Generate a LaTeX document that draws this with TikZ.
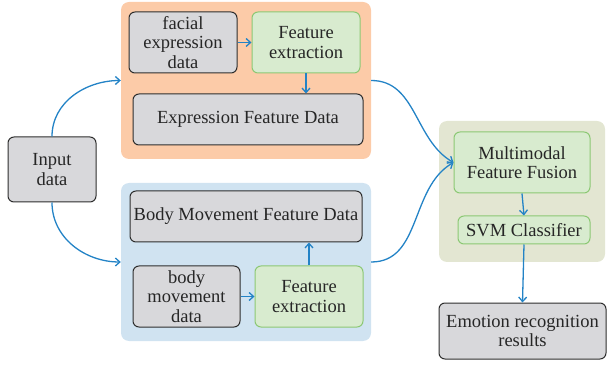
\documentclass[tikz,border=0pt]{standalone}
\usepackage{fontspec}
\setmainfont{Liberation Serif}
\usetikzlibrary{arrows.meta}
\definecolor{orangebg}{HTML}{FCCBA8}
\definecolor{bluebg}{HTML}{D0E3F1}
\definecolor{greenbg}{HTML}{E3E6D2}
\definecolor{grayfill}{HTML}{D8D8DB}
\definecolor{grayline}{HTML}{2E2E2E}
\definecolor{greenfill}{HTML}{D8EBCF}
\definecolor{greenline}{HTML}{8CC874}
\definecolor{arrowblue}{HTML}{2383C6}
\tikzset{
  region/.style={rounded corners=8pt, inner sep=0pt, draw=none},
  graybox/.style={draw=grayline, fill=grayfill, line width=1pt, rounded corners=6pt, align=center, inner sep=1pt, font=\fontsize{18.5}{19.5}\selectfont, text=black!85},
  greenbox/.style={draw=greenline, fill=greenfill, line width=1pt, rounded corners=6pt, align=center, inner sep=1pt, font=\fontsize{18.5}{19.5}\selectfont, text=black!85},
  conn/.style={draw=arrowblue, line width=1.3pt, -{Straight Barb[length=4.5pt,width=8pt,line width=1.3pt]}},
}
\begin{document}
\begin{tikzpicture}[x=1pt,y=-1pt]
\useasboundingbox (0,0) rectangle (608,366);
% regions
\node[region, fill=orangebg, minimum width=250pt, minimum height=157pt] (orange) at (246,80.5) {};
\node[region, fill=bluebg, minimum width=250pt, minimum height=158pt] (blue) at (246,262) {};
\node[region, fill=greenbg, minimum width=166pt, minimum height=141pt] (greenr) at (522,191.5) {};
% nodes
\node[graybox, minimum width=108pt, minimum height=61pt] (fed) at (183,42.5) {facial\\expression\\data};
\node[greenbox, minimum width=108pt, minimum height=61pt] (fe1) at (306,42.5) {Feature\\extraction};
\node[graybox, minimum width=230pt, minimum height=51pt] (efd) at (248,119.5) {Expression Feature Data};
\node[graybox, minimum width=88pt, minimum height=65pt] (inp) at (52,169.5) {Input\\data};
\node[graybox, minimum width=232pt, minimum height=51pt] (bmfd) at (246,216.5) {Body Movement Feature Data};
\node[graybox, minimum width=107pt, minimum height=61pt] (bmd) at (186.5,296.5) {body\\movement\\data};
\node[greenbox, minimum width=108pt, minimum height=61pt] (fe2) at (309,296.5) {Feature\\extraction};
\node[greenbox, minimum width=136pt, minimum height=61pt] (mff) at (522,162.5) {Multimodal\\Feature Fusion};
\node[greenbox, minimum width=132pt, minimum height=28pt] (svm) at (524,230) {SVM Classifier};
\node[graybox, minimum width=167pt, minimum height=56pt] (emo) at (522.5,331) {Emotion recognition\\results};
% connectors
\draw[conn] (inp.north) to[out=90,in=180] (orange.west);
\draw[conn] (inp.south) to[out=270,in=180] (blue.west);
\draw[conn] (fed.east) -- (fe1.west);
\draw[conn] (fe1.south) -- (fe1.south |- efd.north);
\draw[conn] (bmd.east) -- (fe2.west);
\draw[conn] (fe2.north) -- (fe2.north |- bmfd.south);
\draw[conn] (orange.east) to[out=0,in=150] (mff.west);
\draw[conn] (blue.east) to[out=0,in=210] (mff.west);
\draw[conn] (mff.south) -- (svm.north);
\draw[conn] (svm.south) -- (emo.north);
\end{tikzpicture}
\end{document}
